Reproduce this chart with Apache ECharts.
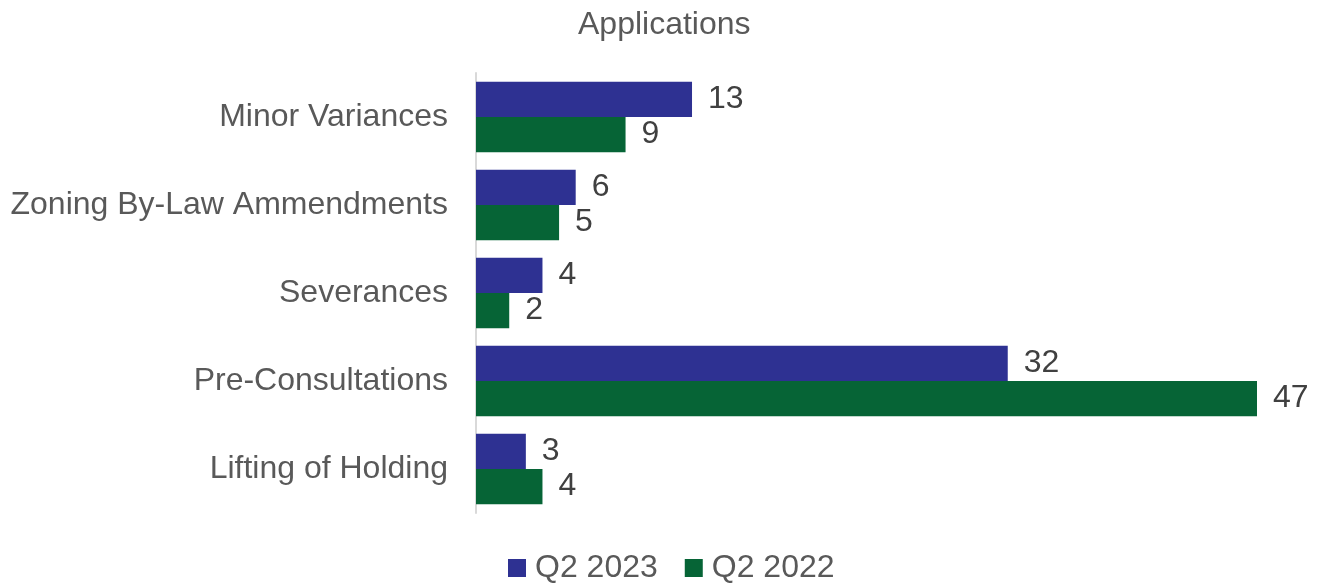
<!DOCTYPE html>
<html>
<head>
<meta charset="utf-8">
<script src="https://cdn.jsdelivr.net/npm/echarts@6/dist/echarts.min.js"></script>
<style>html,body{margin:0;padding:0;background:#fff}#c{width:1321px;height:583px}</style>
</head>
<body>
<div id="c"></div>
<script>
var categories = ["Minor Variances", "Zoning By-Law Ammendments", "Severances", "Pre-Consultations", "Lifting of Holding"];
var q2_2023 = [13, 6, 4, 32, 3];
var q2_2022 = [9, 5, 2, 47, 4];
var seriesNames = ["Q2 2023", "Q2 2022"];

var font = "Liberation Sans, Arial, sans-serif";
var chart = echarts.init(document.getElementById('c'));
var labelStyle = {show: true, position: 'right', distance: 16, color: '#404040', fontSize: 32, fontFamily: font};
chart.setOption({
  animation: false,
  title: {text: 'Applications', left: 573, top: 4,
    textStyle: {fontSize: 32, fontWeight: 'normal', color: '#595959', fontFamily: font}},
  legend: {data: seriesNames, top: 547, left: 503, icon: 'rect', itemWidth: 18, itemHeight: 18, itemGap: 27,
    textStyle: {fontSize: 32, color: '#595959', fontFamily: font, padding: [0, 0, 0, 4]}},
  grid: {left: 476, right: 64, top: 73, bottom: 70, containLabel: false},
  xAxis: {type: 'value', min: 0, max: 47, show: false, splitLine: {show: false}},
  yAxis: {type: 'category', data: categories, inverse: true,
    axisLine: {show: true, lineStyle: {color: '#D9D9D9', width: 2}},
    axisTick: {show: false},
    axisLabel: {fontSize: 32, color: '#595959', fontFamily: font, margin: 28}},
  series: [
    {name: seriesNames[0], type: 'bar', data: q2_2023, barGap: '0%', barCategoryGap: '20%',
     itemStyle: {color: '#2E3192'}, label: labelStyle},
    {name: seriesNames[1], type: 'bar', data: q2_2022, barGap: '0%', barCategoryGap: '20%',
     itemStyle: {color: '#066436'}, label: labelStyle}
  ]
});
</script>
</body>
</html>
